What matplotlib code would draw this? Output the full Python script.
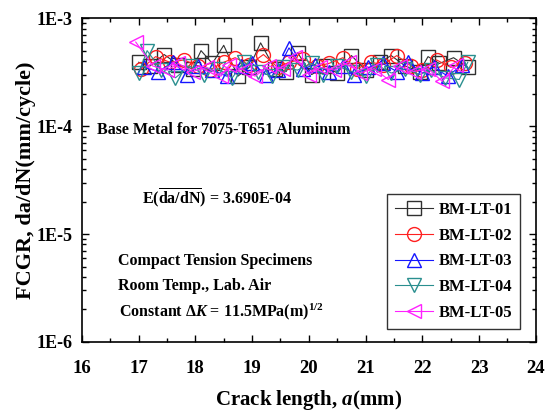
import math
import matplotlib
matplotlib.use('Agg')
import matplotlib.pyplot as plt
from matplotlib.ticker import LogLocator, NullFormatter, MultipleLocator

plt.rcParams['font.family'] = 'Liberation Serif'
plt.rcParams['font.weight'] = 'bold'
plt.rcParams['mathtext.fontset'] = 'custom'
plt.rcParams['mathtext.rm'] = 'Liberation Serif:bold'
plt.rcParams['mathtext.bf'] = 'Liberation Serif:bold'
plt.rcParams['mathtext.it'] = 'Liberation Serif:bold:italic'

# crack length (mm) and growth rate (1E-4 mm/cycle) per specimen
x1 = [17.0, 17.2, 17.45, 17.7, 17.95, 18.1, 18.3, 18.5, 18.75, 18.95, 19.15, 19.4, 19.6,
      19.8, 20.05, 20.3, 20.5, 20.75, 21.0, 21.25, 21.45, 21.7, 21.95, 22.1, 22.3, 22.55, 22.8]
y1 = [3.9, 3.6, 4.6, 3.7, 3.4, 5.0, 3.8, 5.6, 2.9, 3.5, 5.9, 3.4, 3.2,
      4.8, 3.0, 3.6, 3.1, 4.5, 3.3, 3.9, 4.5, 3.6, 3.2, 4.4, 3.8, 4.3, 3.5]
x2 = [17.05, 17.3, 17.55, 17.8, 18.05, 18.25, 18.5, 18.7, 18.95, 19.2, 19.45, 19.65,
      19.9, 20.15, 20.35, 20.6, 20.85, 21.1, 21.3, 21.55, 21.8, 22.0, 22.25, 22.5, 22.75]
y2 = [3.4, 4.4, 3.9, 4.1, 3.6, 3.3, 3.9, 4.3, 3.7, 4.6, 3.5, 3.9,
      4.2, 3.6, 3.8, 4.3, 3.4, 3.9, 3.7, 4.5, 3.6, 3.3, 4.1, 3.5, 3.8]
x3 = [17.1, 17.35, 17.6, 17.85, 18.05, 18.3, 18.55, 18.8, 19.0, 19.25, 19.45, 19.65,
      19.9, 20.1, 20.35, 20.6, 20.8, 21.05, 21.3, 21.55, 21.75, 22.0, 22.2, 22.45, 22.7]
y3 = [3.5, 3.2, 3.9, 3.0, 3.6, 3.3, 2.9, 3.6, 3.8, 3.0, 3.3, 5.3,
      3.4, 3.7, 3.2, 3.6, 3.0, 3.5, 3.8, 3.2, 3.9, 3.1, 3.5, 2.9, 3.7]
x4 = [17.0, 17.15, 17.4, 17.65, 17.9, 18.15, 18.4, 18.65, 18.85, 19.1, 19.35, 19.55,
      19.8, 20.05, 20.25, 20.5, 20.75, 21.0, 21.2, 21.45, 21.7, 21.95, 22.15, 22.4, 22.65, 22.8]
y4 = [3.1, 5.0, 3.3, 2.8, 3.6, 3.0, 3.4, 2.8, 3.9, 3.2, 2.9, 3.5,
      3.3, 3.8, 3.0, 3.6, 3.2, 2.9, 3.7, 3.1, 3.4, 3.0, 3.3, 2.8, 2.7, 3.9]
x5 = [16.95, 17.25, 17.5, 17.7, 17.95, 18.2, 18.45, 18.6, 18.85, 19.05, 19.3, 19.55,
      19.75, 20.0, 20.2, 20.45, 20.7, 20.9, 21.15, 21.4, 21.6, 21.85, 22.1, 22.35, 22.6]
y5 = [6.0, 3.6, 3.3, 3.8, 3.2, 3.5, 2.9, 3.7, 3.3, 2.9, 3.6, 3.4,
      4.4, 3.0, 3.5, 3.3, 3.9, 3.1, 3.4, 2.7, 3.6, 3.2, 3.4, 2.6, 3.7]

labels = ['BM-LT-01', 'BM-LT-02', 'BM-LT-03', 'BM-LT-04', 'BM-LT-05']
colors = ['#303030', '#ff2020', '#1515ff', '#2a8f8f', '#ff20ff']
markers = ['s', 'o', '^', 'v', '<']
series = [(x1, y1), (x2, y2), (x3, y3), (x4, y4), (x5, y5)]
x_ticks = [16, 17, 18, 19, 20, 21, 22, 23, 24]
y_ticks = [1e-6, 1e-5, 1e-4, 1e-3]

fig = plt.figure(figsize=(5.53, 4.12), dpi=100)
ax = fig.add_axes([0.148, 0.17, 0.821, 0.786])

for (xs, ys), lab, c, m in zip(series, labels, colors, markers):
    ax.plot(xs, [v * 1e-4 for v in ys], color=c, lw=0.8, marker=m, ms=10,
            mfc='none', mec=c, mew=1.0, label=lab)

ax.set_yscale('log')
ax.set_xlim(16, 24)
ax.set_ylim(1e-6, 1e-3)
ax.set_xticks(x_ticks, [str(t) for t in x_ticks], fontweight='bold', fontsize=13.5,
              color='black')
ax.set_yticks(y_ticks, ['1E%d' % round(math.log10(t)) for t in y_ticks],
              fontweight='bold', fontsize=13)
ax.xaxis.set_minor_locator(MultipleLocator(0.5))
ax.yaxis.set_minor_locator(LogLocator(base=10, subs=range(2, 10)))
ax.yaxis.set_minor_formatter(NullFormatter())
ax.tick_params(which='both', direction='in', top=True, right=True, width=1)
ax.tick_params(which='major', length=5)
ax.tick_params(axis='x', which='major', pad=13)
ax.tick_params(axis='y', which='major', pad=7)
ax.tick_params(which='minor', length=3)
for s in ax.spines.values():
    s.set_linewidth(1.2)

ax.set_xlabel('Crack length, $\\mathit{a}$(mm)', fontsize=15, fontweight='bold', labelpad=8)
ax.set_ylabel('FCGR, da/dN(mm/cycle)', fontsize=16, fontweight='bold', labelpad=0)

txt = dict(fontsize=11.5, fontweight='bold', va='center')
ax.text(16.26, 9.2e-5, 'Base Metal for 7075-T651 Aluminum', **txt)
ax.text(17.06, 2.15e-5, r'E($\overline{\mathrm{da/dN}}$) = 3.690E-04', **txt)
ax.text(16.63, 5.6e-6, 'Compact Tension Specimens', **txt)
ax.text(16.63, 3.3e-6, 'Room Temp., Lab. Air', **txt)
ax.text(16.66, 1.9e-6, r'Constant $\mathit{\Delta K}$ = 11.5MPa(m)$^{1/2}$', **txt)

leg = ax.legend(loc='lower right', bbox_to_anchor=(0.966, 0.04), frameon=True, fancybox=False,
                edgecolor='black', labelspacing=0.58, handlelength=2.3, handletextpad=0.3,
                borderpad=0.5, borderaxespad=0, prop={'weight': 'bold', 'size': 12})
leg.get_frame().set_linewidth(1.0)

fig.savefig('out.png', dpi=100)
